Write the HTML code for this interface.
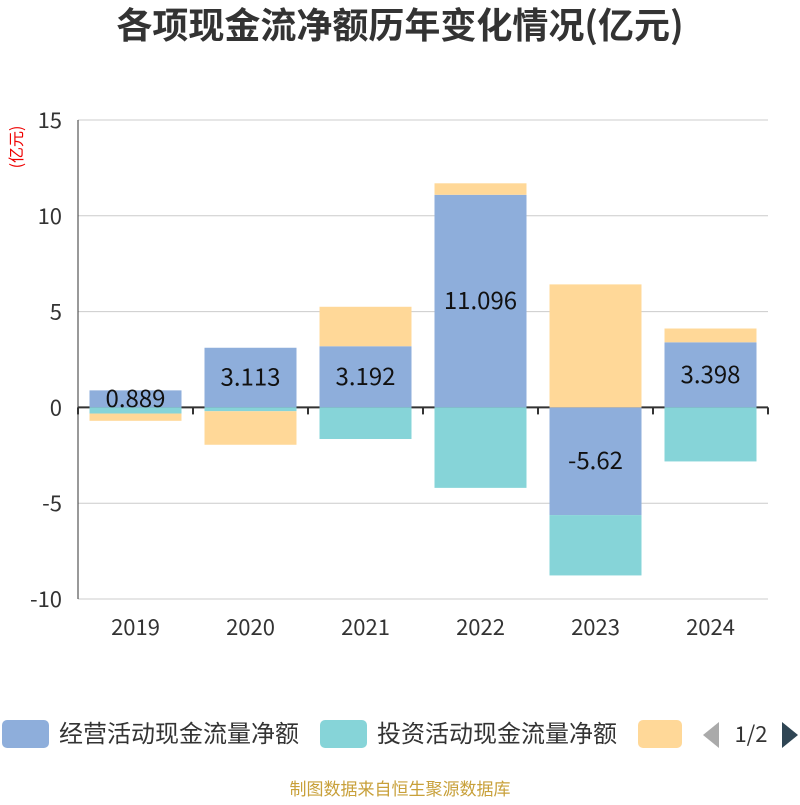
<!DOCTYPE html>
<html><head><meta charset="utf-8"><style>
body{margin:0;background:#fff;font-family:"Noto Sans CJK SC",sans-serif}
</style></head><body>
<svg id="c" width="800" height="800" xmlns="http://www.w3.org/2000/svg" font-family="Noto Sans CJK SC, sans-serif">
<text x="400" y="38" text-anchor="middle" font-size="36" font-weight="bold" fill="#333">各项现金流净额历年变化情况(亿元)</text>
<text transform="translate(22,147) rotate(-90)" text-anchor="middle" font-size="16" fill="#e00">(亿元)</text>
<g id="grid"></g><g id="bars"></g><g id="axis"></g>
<g>
<rect x="2" y="720" width="47" height="28" rx="5" fill="#8eaedb"/>
<text x="59" y="742" font-size="24" fill="#333">经营活动现金流量净额</text>
<rect x="320" y="720" width="47" height="28" rx="5" fill="#86d4d8"/>
<text x="377" y="742" font-size="24" fill="#333">投资活动现金流量净额</text>
<rect x="638" y="720" width="44" height="28" rx="5" fill="#ffd898"/>
<polygon points="719,722 719,748 703,735" fill="#aaa"/>
<text x="751" y="742" text-anchor="middle" font-size="22" fill="#333">1/2</text>
<polygon points="782,722 782,748 798,735" fill="#2f4554"/>
</g>
<text x="400" y="795" text-anchor="middle" font-size="17" fill="#c8a03a">制图数据来自恒生聚源数据库</text>
</svg>
<script>
const categories=["2019","2020","2021","2022","2023","2024"];
const operating=[0.889,3.113,3.192,11.096,-5.62,3.398];
const investing=[-0.32,-0.2,-1.65,-4.2,-3.15,-2.82];
const financing=[-0.38,-1.75,2.06,0.6,6.42,0.72];
const yTicks=[15,10,5,0,-5,-10];
const NS="http://www.w3.org/2000/svg";
const X0=78,X1=768,Y0=120,Y1=599,ymax=15,ymin=-10;
const y=v=>Y0+(ymax-v)*(Y1-Y0)/(ymax-ymin);
const bw=(X1-X0)/categories.length;
const xc=i=>X0+bw*(i+0.5);
function mk(tag,attrs,parent){const e=document.createElementNS(NS,tag);for(const k in attrs)e.setAttribute(k,attrs[k]);document.getElementById(parent).appendChild(e);return e;}
yTicks.forEach(t=>{
 const l=mk('line',{x1:X0,x2:X1,y1:y(t),y2:y(t),stroke:t===0?'#333':'#ccc','stroke-width':t===0?2:1},'grid');
 
 
 const tx=mk('text',{x:62,y:y(t)+8,'text-anchor':'end','font-size':22,fill:'#333'},'axis');
 tx.textContent=t;
 
 
});
const yl=mk('line',{x1:X0,x2:X0,y1:Y0,y2:Y1,stroke:'#333','stroke-width':1},'axis');


for(let i=0;i<=categories.length;i++){
 const tk=mk('line',{x1:X0+bw*i,x2:X0+bw*i,y1:y(0),y2:y(0)+7,stroke:'#333','stroke-width':2},'axis');
 
 
}
const series=[[operating,'#8eaedb','operating'],[investing,'#86d4d8','investing'],[financing,'#ffd898','financing']];
categories.forEach((c,i)=>{
 let pos=0,neg=0;
 const w=bw*0.8,x=xc(i)-w/2;
 series.forEach(([arr,col,nm])=>{
  const v=arr[i];let a,b;
  if(v>=0){a=pos;b=pos+v;pos=b;}else{a=neg;b=neg+v;neg=b;}
  const r=mk('rect',{x:x,width:w,y:Math.min(y(a),y(b)),height:Math.abs(y(a)-y(b)),fill:col},'bars');
  
  
  if(nm==='operating'){
   const t=mk('text',{x:xc(i),y:(y(a)+y(b))/2+8,'text-anchor':'middle','font-size':24,fill:'#111'},'bars');
   t.textContent=String(v);
   
   
  }
 });
 const t=mk('text',{x:xc(i),y:635,'text-anchor':'middle','font-size':22,fill:'#333'},'axis');
 t.textContent=c;
 
 
});
</script>
</body></html>
